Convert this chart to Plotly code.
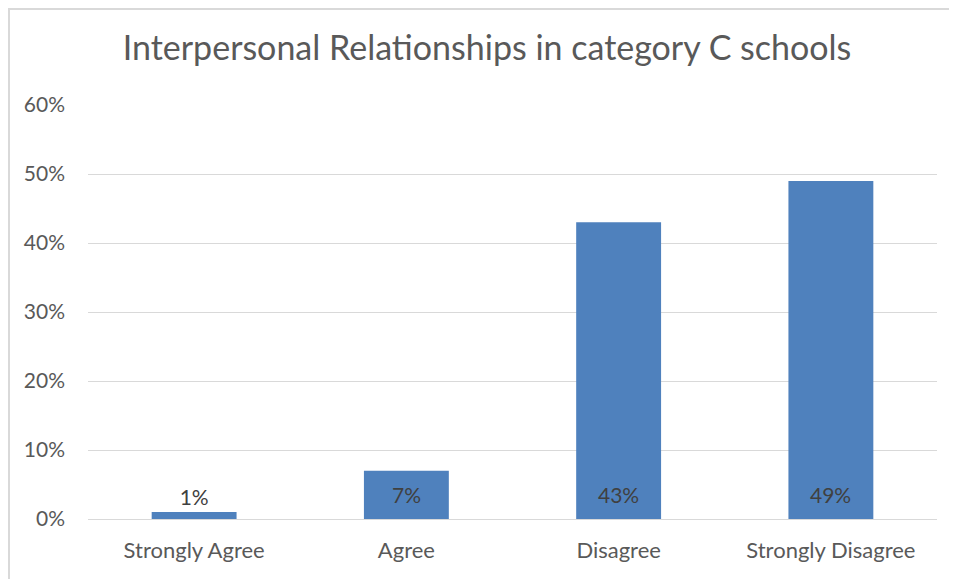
import plotly.graph_objects as go

categories = ["Strongly Agree", "Agree", "Disagree", "Strongly Disagree"]
values = [0.01, 0.07, 0.43, 0.49]
label_inside = [False, True, True, True]
y_ticks = [0, 0.1, 0.2, 0.3, 0.4, 0.5, 0.6]

FONT = "Lato, 'Open Sans', sans-serif"
LABEL_FONT = dict(size=21, color="#404040", family=FONT)

fig = go.Figure(go.Bar(
    x=categories, y=values,
    marker=dict(color="#4F81BD", line=dict(width=0)),
    texttemplate=["" if inside else "%{y:.0%}" for inside in label_inside],
    textposition="outside",
    textangle=0,
    outsidetextfont=LABEL_FONT,
    constraintext="none",
    cliponaxis=False,
    width=0.4,
))

# labels at the inside base of the bars
annotations = [
    dict(x=c, y=0, xref="x", yref="y", text=f"{v:.0%}", showarrow=False,
         yanchor="bottom", yshift=10, font=LABEL_FONT)
    for c, v, inside in zip(categories, values, label_inside) if inside
]

L, R, T, B = 80, 28, 97, 68
PW, PH = 957 - L - R, 579 - T - B

fig.update_layout(
    width=957, height=579,
    margin=dict(l=L, r=R, t=T, b=B),
    paper_bgcolor="white", plot_bgcolor="white",
    font=dict(family=FONT, color="#595959", size=21),
    title=dict(text="Interpersonal Relationships in category C schools",
               x=479/957, xanchor="center", y=1-40/579, yanchor="middle",
               font=dict(size=34, color="#595959", family=FONT)),
    showlegend=False,
    xaxis=dict(showgrid=False, showline=False, ticks="", ticklabelstandoff=16,
               tickfont=dict(size=22, color="#595959")),
    yaxis=dict(range=[0, 0.6], tickvals=y_ticks, tickformat=".0%",
               showgrid=True, gridcolor="#D9D9D9", gridwidth=1,
               zeroline=True, zerolinecolor="#D9D9D9", zerolinewidth=1,
               showline=False, ticks="", ticklabelstandoff=22,
               tickfont=dict(size=21, color="#595959")),
    annotations=annotations,
    shapes=[dict(type="rect", xref="paper", yref="paper",
                 x0=(1 - L) / PW, x1=1.2, y0=-0.5, y1=1 + (T - 1) / PH,
                 line=dict(color="#D9D9D9", width=2), fillcolor="rgba(0,0,0,0)")],
)

fig.write_html("out.html")
